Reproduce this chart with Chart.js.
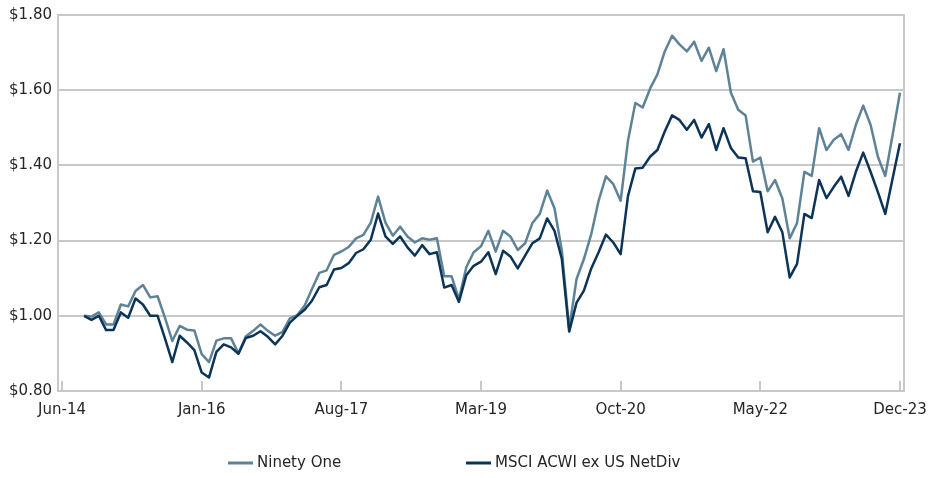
<!DOCTYPE html>
<html>
<head>
<meta charset="utf-8">
<script src="https://cdn.jsdelivr.net/npm/chart.js@4.4.0/dist/chart.umd.min.js"></script>
<style>
  html, body { margin: 0; padding: 0; background: #fff; }
  #wrap { width: 932px; height: 478px; }
</style>
</head>
<body>
<div id="wrap"><canvas id="growthChart" width="932" height="478"></canvas></div>
<script>
// growth of $1, monthly, months counted from Jun-14
const tickLabels = ['Jun-14', 'Jan-16', 'Aug-17', 'Mar-19', 'Oct-20', 'May-22', 'Dec-23'];
const tickMonths = [0, 19, 38, 57, 76, 95, 114];
const firstMonth = 3; // series start Sep-14

const seriesNames = ['Ninety One', 'MSCI ACWI ex US NetDiv'];

const ninetyOne = [
  1.000, 0.998, 1.009, 0.977, 0.977, 1.030, 1.025, 1.066,
  1.082, 1.049, 1.052, 0.995, 0.933, 0.973, 0.963, 0.961,
  0.898, 0.877, 0.934, 0.940, 0.940, 0.900, 0.945, 0.960,
  0.977, 0.960, 0.947, 0.957, 0.993, 1.002, 1.027, 1.071,
  1.114, 1.121, 1.162, 1.171, 1.183, 1.206, 1.215, 1.248,
  1.317, 1.248, 1.213, 1.237, 1.211, 1.195, 1.206, 1.202,
  1.206, 1.105, 1.105, 1.044, 1.129, 1.169, 1.185, 1.226,
  1.171, 1.226, 1.211, 1.175, 1.193, 1.247, 1.271, 1.333,
  1.286, 1.173, 0.965, 1.098, 1.151, 1.217, 1.306, 1.371,
  1.350, 1.306, 1.466, 1.566, 1.554, 1.604, 1.642, 1.703,
  1.745, 1.722, 1.703, 1.729, 1.678, 1.713, 1.651, 1.709,
  1.593, 1.548, 1.533, 1.410, 1.421, 1.331, 1.361, 1.312,
  1.206, 1.247, 1.383, 1.372, 1.499, 1.441, 1.468, 1.483,
  1.441, 1.508, 1.559, 1.508, 1.423, 1.372, 1.481, 1.593
];

const msciAcwi = [
  1.000, 0.989, 1.000, 0.962, 0.962, 1.009, 0.995, 1.046,
  1.030, 1.000, 1.000, 0.940, 0.877, 0.947, 0.929, 0.909,
  0.849, 0.836, 0.904, 0.924, 0.916, 0.899, 0.941, 0.947,
  0.959, 0.944, 0.924, 0.947, 0.982, 1.000, 1.016, 1.040,
  1.076, 1.082, 1.123, 1.127, 1.140, 1.167, 1.177, 1.202,
  1.272, 1.211, 1.191, 1.211, 1.182, 1.160, 1.188, 1.164,
  1.169, 1.075, 1.082, 1.037, 1.108, 1.133, 1.144, 1.169,
  1.111, 1.173, 1.158, 1.126, 1.160, 1.193, 1.206, 1.259,
  1.226, 1.151, 0.958, 1.035, 1.067, 1.126, 1.169, 1.216,
  1.195, 1.164, 1.319, 1.392, 1.394, 1.423, 1.441, 1.490,
  1.533, 1.521, 1.495, 1.521, 1.474, 1.510, 1.441, 1.499,
  1.446, 1.421, 1.419, 1.331, 1.329, 1.222, 1.263, 1.222,
  1.102, 1.138, 1.271, 1.260, 1.361, 1.313, 1.343, 1.370,
  1.319, 1.383, 1.434, 1.383, 1.329, 1.271, 1.365, 1.459
];

const GRID = '#c8c8c8';
const TEXT = '#262626';
const FONT = 'DejaVu Sans';

const toPoints = arr => arr.map((v, k) => ({ x: firstMonth + k, y: v }));

// right frame edge, inward x ticks and the legend row
const frameAndLegend = {
  id: 'frameAndLegend',
  afterDraw(chart) {
    const { ctx, chartArea, scales } = chart;
    ctx.save();
    ctx.strokeStyle = GRID;
    ctx.lineWidth = 2;
    ctx.beginPath();
    ctx.moveTo(chartArea.right, chartArea.top - 1);
    ctx.lineTo(chartArea.right, chartArea.bottom + 1);
    tickMonths.forEach(m => {
      const x = Math.round(scales.x.getPixelForValue(m));
      ctx.moveTo(x, chartArea.bottom);
      ctx.lineTo(x, chartArea.bottom - 10);
    });
    ctx.stroke();

    const legendX = [228, 466];
    const legendY = 463;
    ctx.font = '15px "' + FONT + '"';
    ctx.textBaseline = 'middle';
    ctx.fillStyle = TEXT;
    chart.data.datasets.forEach((ds, i) => {
      ctx.strokeStyle = ds.borderColor;
      ctx.lineWidth = 3;
      ctx.beginPath();
      ctx.moveTo(legendX[i], legendY);
      ctx.lineTo(legendX[i] + 25, legendY);
      ctx.stroke();
      ctx.fillText(ds.label, legendX[i] + 29, legendY);
    });
    ctx.restore();
  }
};

new Chart(document.getElementById('growthChart'), {
  type: 'line',
  data: {
    datasets: [
      {
        label: seriesNames[0],
        data: toPoints(ninetyOne),
        borderColor: '#5e8397',
        borderWidth: 2.5,
        pointRadius: 0,
        tension: 0,
        borderJoinStyle: 'round',
        order: 1
      },
      {
        label: seriesNames[1],
        data: toPoints(msciAcwi),
        borderColor: '#0b3457',
        borderWidth: 2.5,
        pointRadius: 0,
        tension: 0,
        borderJoinStyle: 'round',
        order: 0
      }
    ]
  },
  options: {
    responsive: false,
    animation: false,
    layout: { padding: { top: 15, right: 28, left: 0, bottom: 0 } },
    plugins: {
      legend: { display: false },
      tooltip: { enabled: false }
    },
    scales: {
      x: {
        type: 'linear',
        min: -0.55,
        max: 114.55,
        afterBuildTicks: scale => { scale.ticks = tickMonths.map(v => ({ value: v })); },
        afterFit: scale => {
          scale.height = 87;
          // edge labels may hang past the plot; keep the plot box fixed
          scale.paddingLeft = 0;
          scale.paddingRight = 0;
        },
        grid: { display: false, drawTicks: false },
        border: { display: true, color: GRID, width: 2 },
        ticks: {
          autoSkip: false,
          maxRotation: 0,
          padding: 10,
          color: TEXT,
          font: { family: FONT, size: 15 },
          callback: v => tickLabels[tickMonths.indexOf(v)]
        }
      },
      y: {
        min: 0.8,
        max: 1.8,
        afterFit: scale => { scale.width = 58; },
        grid: { color: GRID, lineWidth: 2, drawTicks: false },
        border: { display: true, color: GRID, width: 2 },
        ticks: {
          stepSize: 0.2,
          padding: 6,
          color: TEXT,
          font: { family: FONT, size: 15 },
          callback: v => '$' + v.toFixed(2)
        }
      }
    }
  },
  plugins: [frameAndLegend]
});
</script>
</body>
</html>
